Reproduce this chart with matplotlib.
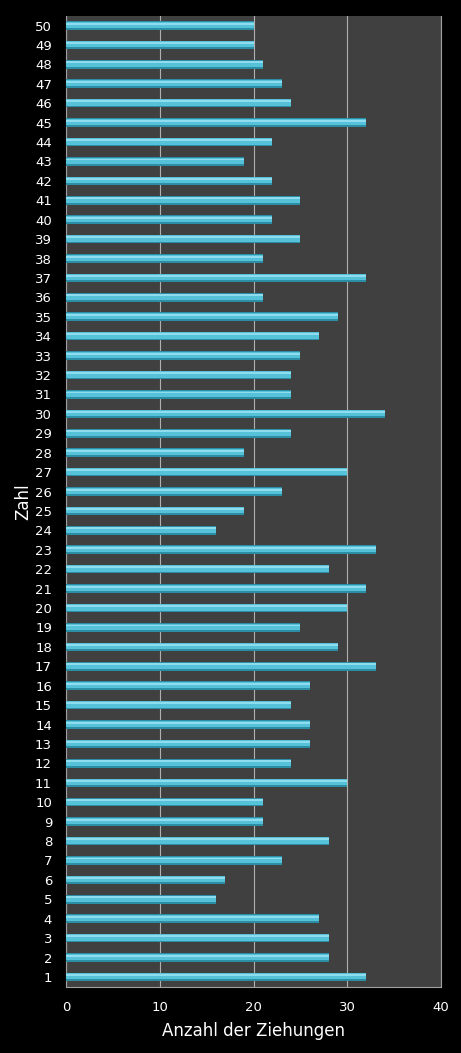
import numpy as np
import matplotlib.pyplot as plt

zahlen = list(range(1, 51))
ziehungen = [32, 28, 28, 27, 16, 17, 23, 28, 21, 21,
             30, 24, 26, 26, 24, 26, 33, 29, 25, 30,
             32, 28, 33, 16, 19, 23, 30, 19, 24, 34,
             24, 24, 25, 27, 29, 21, 32, 21, 25, 22,
             25, 22, 19, 22, 32, 24, 23, 21, 20, 20]
x_ticks = [0, 10, 20, 30, 40]

fig = plt.figure(figsize=(4.61, 10.53), dpi=100, facecolor='black')
ax = fig.add_axes([0.143, 0.063, 0.814, 0.922])
ax.set_facecolor('#404040')

y = np.array(zahlen)
# fake 3d look: dark base, cyan body, light top strip
ax.barh(y, ziehungen, height=0.44, color='#2b8ea5', zorder=3)
ax.barh(y + 0.03, ziehungen, height=0.32, color='#56c2da', zorder=4)
ax.barh(y + 0.1, ziehungen, height=0.1, color='#8edcee', zorder=5)

ax.set_xlim(0, 40)
ax.set_ylim(0.5, 50.5)
ax.set_xticks(x_ticks)
ax.set_yticks(zahlen)
ax.grid(axis='x', color='#b0b0b0', linewidth=0.8, zorder=1)
ax.tick_params(colors='white', labelsize=9.5, length=0, pad=10)
for s in ['left', 'bottom', 'right']:
    ax.spines[s].set_color('#a0a0a0')
ax.spines['top'].set_visible(False)

ax.set_xlabel('Anzahl der Ziehungen', color='white', fontsize=12, labelpad=6)
ax.set_ylabel('Zahl', color='white', fontsize=12, labelpad=2)

fig.savefig('out.png', dpi=100, facecolor='black')
